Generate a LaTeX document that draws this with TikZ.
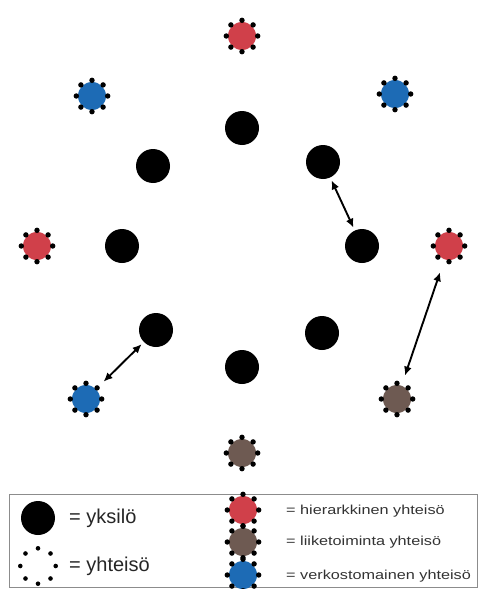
\documentclass[tikz,border=0pt]{standalone}
\usepackage{fontspec}
\setmainfont{Liberation Sans}
\usetikzlibrary{arrows.meta}
\definecolor{hier}{HTML}{D0404A}
\definecolor{liike}{HTML}{6E5A52}
\definecolor{verk}{HTML}{1D6BB5}
\definecolor{txtgray}{HTML}{333333}
\tikzset{
  person/.style={circle, fill=black, minimum size=34pt, inner sep=0pt},
  comm/.style={circle, minimum size=31pt, inner sep=0pt,
    path picture={\fill[#1] (path picture bounding box.center) circle (14pt);}},
  ring/.style={circle, minimum size=35pt, inner sep=0pt},
  link/.style={{Latex[length=9pt,width=8pt]}-{Latex[length=9pt,width=8pt]}, line width=1.9pt},
  bigtxt/.style={anchor=west, inner sep=0pt, font=\fontsize{20}{20}\selectfont, text=black!85},
  smalltxt/.style={anchor=west, inner sep=0pt, font=\fontsize{13}{13}\selectfont, text=txtgray},
}
\newcommand{\commdots}[2]{\foreach \a in {0,45,...,315} \fill[black] (#1.\a) circle (#2);}
\begin{document}
\begin{tikzpicture}[x=1pt,y=-1pt]
\useasboundingbox (0,0) rectangle (481,589);
\fill[white] (0,0) rectangle (481,589);
% individuals
\node[person] (p1) at (242,128) {};
\node[person] (p2) at (153,166) {};
\node[person] (p3) at (323,162) {};
\node[person] (p4) at (122,246) {};
\node[person] (p5) at (362,246) {};
\node[person] (p6) at (156,330) {};
\node[person] (p7) at (322,333) {};
\node[person] (p8) at (242,367) {};
% communities
\node[comm=hier] (c1) at (242,36) {};
\node[comm=verk] (c2) at (92,96) {};
\node[comm=verk] (c3) at (395,94) {};
\node[comm=hier] (c4) at (37,246) {};
\node[comm=hier] (c5) at (449,246) {};
\node[comm=verk] (c6) at (86,399) {};
\node[comm=liike] (c7) at (397,399) {};
\node[comm=liike] (c8) at (242,453) {};
\foreach \n in {c1,c2,c3,c4,c5,c6,c7,c8} {\commdots{\n}{2.7pt}}
% connectors
\draw[link, shorten <=3pt, shorten >=3pt] (p3) -- (p5);
\draw[link, shorten <=12pt, shorten >=9pt] (c5) -- (c7);
\draw[link, shorten <=3pt, shorten >=9pt] (p6) -- (c6);
% legend
\node[draw=black!45, line width=1.3pt, minimum width=468pt, minimum height=93pt, inner sep=0pt] (legend) at (243.5,541) {};
\node[person] (lp) at (38,518) {};
\node[bigtxt] (lt1) at (69,518) {= yksilö};
\node[ring] (lc) at (38,566) {};
\commdots{lc}{2.3pt}
\node[bigtxt] (lt2) at (69,566) {= yhteisö};
\node[comm=hier] (l1) at (243,510) {};
\node[comm=liike] (l2) at (243,542) {};
\node[comm=verk] (l3) at (243,575) {};
\foreach \n in {l1,l2,l3} {\commdots{\n}{2.7pt}}
\node[smalltxt] (s1) at (286,511) {\scalebox{1.25}[1]{= hierarkkinen yhteisö}};
\node[smalltxt] (s2) at (286,542) {\scalebox{1.25}[1]{= liiketoiminta yhteisö}};
\node[smalltxt] (s3) at (286,576) {\scalebox{1.25}[1]{= verkostomainen yhteisö}};
\end{tikzpicture}
\end{document}
